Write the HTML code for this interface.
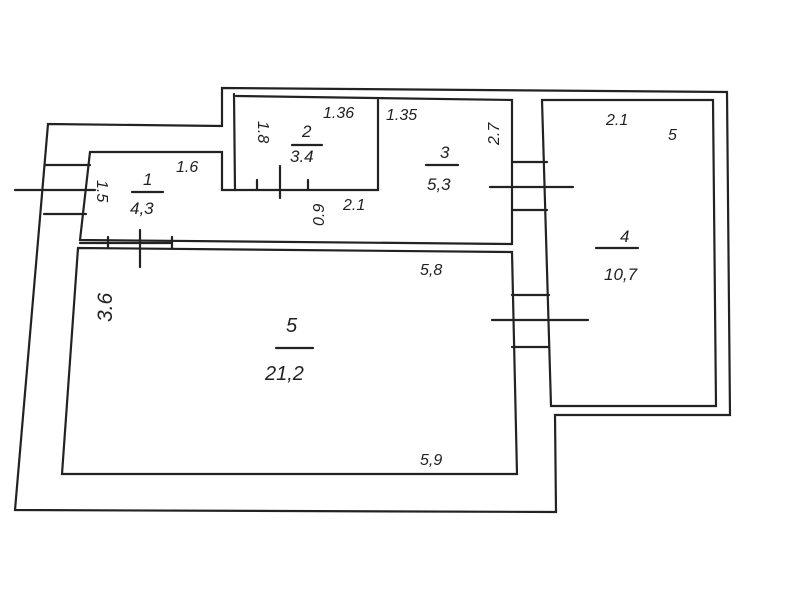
<!DOCTYPE html>
<html><head><style>
html,body{margin:0;padding:0;background:#fff;}
svg{display:block}
text{font-family:"Liberation Sans",sans-serif;fill:#222;font-style:italic}
</style></head><body>
<svg width="800" height="600" viewBox="0 0 800 600" xmlns="http://www.w3.org/2000/svg">
<rect width="800" height="600" fill="#fff"/>
<g fill="none" stroke="#222" stroke-width="2.2" stroke-linecap="round">
<path d="M222,88 L727,92 L730,415 L555,415 L556,512 L15,510 L48,124 L222,126 Z"/>
<path d="M236,96 L512,100 L512,244"/>
<path d="M234,94 L235,190 L378,190 L378,100"/>
<path d="M90,152 L222,152 L222,190 L235,190"/>
<path d="M90,152 L80,240 L512,244"/>
<path d="M542,100 L713,100 L716,406 L551,406 Z"/>
<path d="M78,248 L512,252 L517,474 L62,474 Z"/>
<path d="M45,165 L90,165 M44,214 L86,214 M15,190 L95,190"/>
<path d="M80,243 L172,243 M140,230 L140,267 M108,237 L108,248 M172,237 L172,248"/>
<path d="M257,180 L257,190 M308,180 L308,190 M280,166 L280,198"/>
<path d="M512,162 L547,162 M512,210 L547,210 M490,187 L573,187"/>
<path d="M512,295 L549,295 M512,347 L549,347 M492,320 L588,320"/>
<path d="M132,192 L163,192 M292,145 L322,145 M426,165 L458,165 M596,248 L638,248 M276,348 L313,348"/>
</g>
<g font-size="17">
<text x="143" y="185">1</text>
<text x="130" y="214">4,3</text>
<text x="302" y="137">2</text>
<text x="290" y="162">3.4</text>
<text x="440" y="158">3</text>
<text x="427" y="190">5,3</text>
<text x="620" y="242">4</text>
<text x="604" y="280">10,7</text>
<text x="286" y="332" font-size="20">5</text>
<text x="265" y="380" font-size="20">21,2</text>
</g>
<g font-size="16">
<text x="176" y="172">1.6</text>
<text x="104" y="187" transform="rotate(90 104 180)">1.5</text>
<text x="246" y="117" transform="rotate(90 250 125)">1.8</text>
<text x="323" y="118">1.36</text>
<text x="386" y="120">1.35</text>
<text x="484" y="140" transform="rotate(-90 494 135)">2.7</text>
<text x="343" y="210">2.1</text>
<text x="310" y="228" transform="rotate(-90 316 220)">0.9</text>
<text x="606" y="125">2.1</text>
<text x="668" y="140">5</text>
<text x="420" y="275">5,8</text>
<text x="420" y="465">5,9</text>
<text x="86" y="320" transform="rotate(-90 100 308)" font-size="21">3.6</text>
</g>
</svg>
</body></html>
